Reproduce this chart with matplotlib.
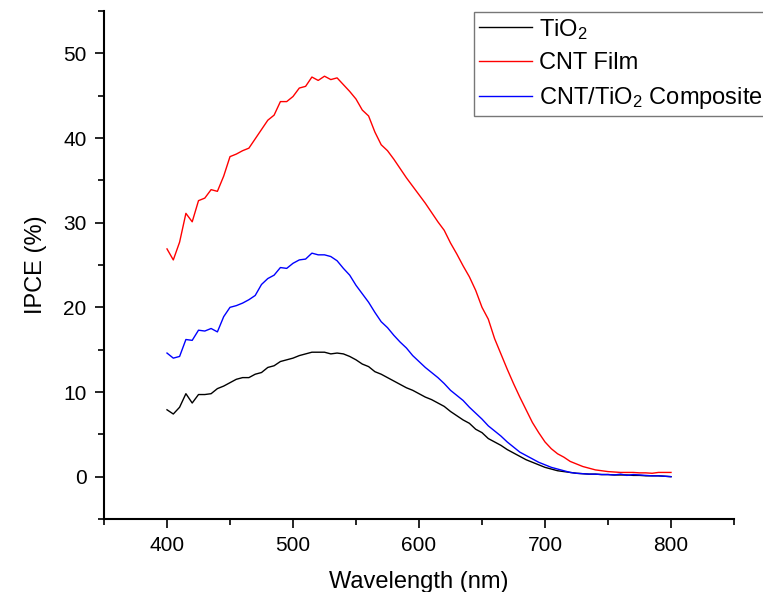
import numpy as np
import matplotlib
matplotlib.use('Agg')
import matplotlib.pyplot as plt
from matplotlib.ticker import MultipleLocator

plt.rcParams['font.family'] = ['Liberation Sans', 'DejaVu Sans']
plt.rcParams['mathtext.default'] = 'regular'

# wavelength grid, 400-800 nm every 5 nm
wavelength = np.arange(400, 805, 5)

ipce_tio2 = [7.9, 7.4, 8.2, 9.8, 8.7, 9.7, 9.7, 9.8, 10.4, 10.7,
             11.1, 11.5, 11.7, 11.7, 12.1, 12.3, 12.9, 13.1, 13.6, 13.8,
             14.0, 14.3, 14.5, 14.7, 14.7, 14.7, 14.5, 14.6, 14.5, 14.2,
             13.8, 13.3, 13.0, 12.4, 12.1, 11.7, 11.3, 10.9, 10.5, 10.2,
             9.8, 9.4, 9.1, 8.7, 8.3, 7.7, 7.2, 6.7, 6.3, 5.6,
             5.2, 4.5, 4.1, 3.7, 3.2, 2.8, 2.4, 2.0, 1.7, 1.4,
             1.1, 0.9, 0.7, 0.6, 0.5, 0.4, 0.35, 0.3, 0.3, 0.25,
             0.25, 0.2, 0.2, 0.2, 0.15, 0.15, 0.1, 0.1, 0.1, 0.05, 0.0]

ipce_cnt = [26.9, 25.6, 27.7, 31.1, 30.1, 32.6, 32.9, 33.9, 33.7, 35.5,
            37.8, 38.1, 38.5, 38.8, 39.9, 41.0, 42.1, 42.7, 44.3, 44.3,
            44.9, 45.9, 46.1, 47.2, 46.8, 47.3, 46.9, 47.1, 46.3, 45.5,
            44.6, 43.3, 42.6, 40.7, 39.2, 38.5, 37.5, 36.4, 35.3, 34.3,
            33.3, 32.3, 31.2, 30.1, 29.1, 27.6, 26.3, 24.9, 23.6, 22.0,
            20.0, 18.6, 16.3, 14.5, 12.7, 11.0, 9.4, 7.9, 6.4, 5.2,
            4.1, 3.3, 2.7, 2.3, 1.8, 1.5, 1.2, 1.0, 0.8, 0.7,
            0.6, 0.55, 0.5, 0.5, 0.5, 0.45, 0.45, 0.4, 0.5, 0.5, 0.5]

ipce_composite = [14.6, 14.0, 14.2, 16.2, 16.1, 17.3, 17.2, 17.5, 17.1, 18.9,
                  20.0, 20.2, 20.5, 20.9, 21.4, 22.7, 23.4, 23.8, 24.7, 24.6,
                  25.2, 25.6, 25.7, 26.4, 26.2, 26.2, 26.0, 25.5, 24.6, 23.8,
                  22.6, 21.6, 20.6, 19.4, 18.3, 17.6, 16.7, 15.9, 15.2, 14.3,
                  13.6, 12.9, 12.3, 11.7, 11.0, 10.2, 9.6, 9.0, 8.2, 7.5,
                  6.8, 6.0, 5.4, 4.8, 4.1, 3.5, 2.9, 2.5, 2.1, 1.7,
                  1.4, 1.1, 0.9, 0.7, 0.5, 0.4, 0.35, 0.3, 0.3, 0.25,
                  0.25, 0.2, 0.3, 0.15, 0.25, 0.2, 0.15, 0.1, 0.1, 0.05, 0.0]

fig = plt.figure(figsize=(7.63, 5.92), dpi=100)
ax = fig.add_axes([104 / 763, 73 / 592, 630 / 763, 508 / 592])

ax.plot(wavelength, ipce_tio2, color='black', lw=1.0, label='TiO$_2$')
ax.plot(wavelength, ipce_cnt, color='red', lw=1.0, label='CNT Film')
ax.plot(wavelength, ipce_composite, color='blue', lw=1.0, label='CNT/TiO$_2$ Composite')

ax.set_xlim(350, 850)
ax.set_ylim(-5, 55)
ax.xaxis.set_major_locator(MultipleLocator(100))
ax.xaxis.set_minor_locator(MultipleLocator(50))
ax.yaxis.set_major_locator(MultipleLocator(10))
ax.yaxis.set_minor_locator(MultipleLocator(5))

for s in ['top', 'right']:
    ax.spines[s].set_visible(False)
for s in ['left', 'bottom']:
    ax.spines[s].set_linewidth(1.5)

ax.tick_params(which='major', direction='out', length=6.5, width=1.2, labelsize=15, pad=6)
ax.tick_params(which='minor', direction='out', length=4, width=1.2)

ax.set_xlabel('Wavelength (nm)', fontsize=17, labelpad=11)
ax.set_ylabel('IPCE (%)', fontsize=17, labelpad=12)

leg = ax.legend(loc='upper left', bbox_to_anchor=(474 / 763, 1 - 12 / 592),
                bbox_transform=fig.transFigure, borderaxespad=0,
                fontsize=17, frameon=True, fancybox=False,
                handlelength=2.25, handletextpad=0.3, labelspacing=0.45,
                borderpad=0.2)
leg.get_frame().set_edgecolor('#555555')
leg.get_frame().set_linewidth(1.0)

fig.savefig('out.png', dpi=100)
